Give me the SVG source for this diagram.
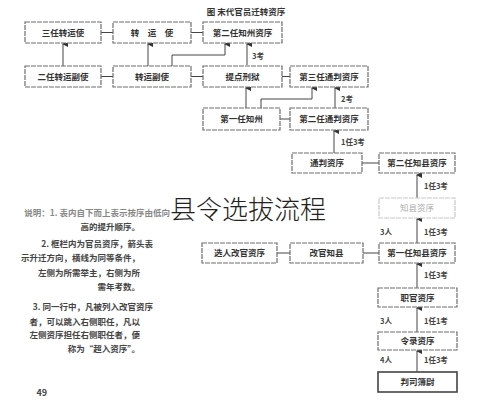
<svg xmlns="http://www.w3.org/2000/svg" width="492" height="400" viewBox="0 0 492 400">
<defs>
<marker id="ah" viewBox="0 0 6 6" refX="3" refY="1" markerWidth="6" markerHeight="6" orient="auto-start-reverse" markerUnits="userSpaceOnUse">
<path d="M0,6 L3,0 L6,6 Z" fill="#333"/>
</marker>
<style>
.b{fill:#fff;stroke:#6e6e6e;stroke-width:1.2;stroke-dasharray:5 1}
.t{font-family:"Noto Sans CJK SC","Noto Sans CJK TC",sans-serif;font-size:8.5px;font-weight:700;fill:#333;text-anchor:middle}
.f .b{stroke:#c8c8c8}
.f .t{fill:#aaa;font-weight:400}
.s .b{stroke:#444;stroke-width:1.6;stroke-dasharray:none}
.c{fill:none;stroke:#444;stroke-width:1}
.l{font-family:"Noto Sans CJK SC",sans-serif;font-size:7.5px;font-weight:700;fill:#444}
.n{font-family:"Noto Sans CJK SC",sans-serif;font-size:8.5px;font-weight:700;fill:#444;text-anchor:end}
</style>
</defs>
<rect width="492" height="400" fill="#fff"/>
<text x="246" y="15" class="t" style="font-size:8.5px">图 宋代官员迁转资序</text>

<g id="connectors">
<line class="c" x1="101" y1="32.5" x2="113" y2="32.5"/>
<line class="c" x1="191" y1="32.5" x2="203" y2="32.5"/>
<line class="c" x1="101" y1="76.5" x2="113" y2="76.5"/>
<line class="c" x1="191" y1="76.5" x2="203" y2="76.5"/>
<line class="c" x1="282" y1="76.5" x2="290" y2="76.5"/>
<line class="c" x1="280" y1="119" x2="290" y2="119"/>
<line class="c" x1="362" y1="163" x2="379" y2="163"/>
<line class="c" x1="277" y1="253" x2="290" y2="253"/>
<line class="c" x1="363" y1="253" x2="379" y2="253"/>
<line class="c" x1="63" y1="66" x2="63" y2="44" marker-end="url(#ah)"/>
<line class="c" x1="148" y1="66" x2="148" y2="44" marker-end="url(#ah)"/>
<line class="c" x1="247" y1="65" x2="247" y2="44" marker-end="url(#ah)"/>
<polyline class="c" points="172,66 172,55 225,55 225,44" marker-end="url(#ah)"/>
<line class="c" x1="246" y1="108" x2="246" y2="88" marker-end="url(#ah)"/>
<polyline class="c" points="261,108 261,99 312,99 312,88" marker-end="url(#ah)"/>
<line class="c" x1="335" y1="108" x2="335" y2="88" marker-end="url(#ah)"/>
<line class="c" x1="334" y1="153" x2="334" y2="131" marker-end="url(#ah)"/>
<line class="c" x1="417" y1="198" x2="417" y2="175" marker-end="url(#ah)"/>
<line class="c" x1="417" y1="243" x2="417" y2="219" marker-end="url(#ah)"/>
<line class="c" x1="417" y1="288" x2="417" y2="264" marker-end="url(#ah)"/>
<line class="c" x1="417" y1="332" x2="417" y2="308" marker-end="url(#ah)"/>
<line class="c" x1="417" y1="372" x2="417" y2="351" marker-end="url(#ah)"/>
<text class="l" x="252" y="59">3考</text>
<text class="l" x="341" y="102">2考</text>
<text class="l" x="341" y="145">1任3考</text>
<text class="l" x="424" y="189">1任3考</text>
<text class="l" x="424" y="235">1任3考</text>
<text class="l" x="380" y="235">3人</text>
<text class="l" x="424" y="278">1任3考</text>
<text class="l" x="424" y="324">1任1考</text>
<text class="l" x="380" y="324">3人</text>
<text class="l" x="424" y="363">1任3考</text>
<text class="l" x="380" y="363">4人</text>
</g>

<g id="A"><rect class="b" x="25" y="22" width="76" height="21"/><text class="t" x="63" y="35.5">三任转运使</text></g>
<g id="B"><rect class="b" x="113" y="22" width="78" height="21"/><text class="t" x="152" y="35.5">转　运　使</text></g>
<g id="C"><rect class="b" x="203" y="22" width="79" height="21"/><text class="t" x="242.5" y="35.5">第二任知州资序</text></g>
<g id="D"><rect class="b" x="25" y="66" width="76" height="21"/><text class="t" x="63" y="79.5">二任转运副使</text></g>
<g id="E"><rect class="b" x="113" y="66" width="78" height="21"/><text class="t" x="152" y="79.5">转运副使</text></g>
<g id="F"><rect class="b" x="203" y="66" width="79" height="21"/><text class="t" x="242.5" y="79.5">提点刑狱</text></g>
<g id="G"><rect class="b" x="290" y="66" width="78" height="21"/><text class="t" x="329" y="79.5">第三任通判资序</text></g>
<g id="I"><rect class="b" x="203" y="108" width="77" height="22"/><text class="t" x="241.5" y="122">第一任知州</text></g>
<g id="H"><rect class="b" x="290" y="108" width="78" height="22"/><text class="t" x="329" y="122">第二任通判资序</text></g>
<g id="K"><rect class="b" x="292" y="153" width="70" height="20"/><text class="t" x="327" y="166">通判资序</text></g>
<g id="L"><rect class="b" x="379" y="153" width="76" height="20"/><text class="t" x="417" y="166">第二任知县资序</text></g>
<g id="M" class="f"><rect class="b" x="379" y="198" width="76" height="20"/><text class="t" x="417" y="211">知县资序</text></g>
<g id="P"><rect class="b" x="202" y="243" width="75" height="20"/><text class="t" x="239.5" y="256">选人改官资序</text></g>
<g id="O"><rect class="b" x="290" y="243" width="73" height="20"/><text class="t" x="326.5" y="256">改官知县</text></g>
<g id="N"><rect class="b" x="379" y="243" width="76" height="20"/><text class="t" x="417" y="256">第一任知县资序</text></g>
<g id="Q"><rect class="b" x="378" y="288" width="79" height="19"/><text class="t" x="417.5" y="300.5">职官资序</text></g>
<g id="R"><rect class="b" x="378" y="332" width="79" height="18"/><text class="t" x="417.5" y="344">令录资序</text></g>
<g id="S" class="s"><rect class="b" x="378" y="372" width="79" height="20"/><text class="t" x="417.5" y="385">判司簿尉</text></g>

<g id="notes">
<text class="n" x="170" y="216" style="fill:#888">说明：1. 表内自下而上表示按序由低向</text>
<text class="n" x="140" y="230">高的提升顺序。</text>
<text class="n" x="153" y="247">2. 框栏内为官员资序，箭头表</text>
<text class="n" x="140" y="261">示升迁方向，横线为同等条件，</text>
<text class="n" x="140" y="276">左侧为所需举主，右侧为所</text>
<text class="n" x="140" y="290">需年考数。</text>
<text class="n" x="153" y="310">3. 同一行中，凡被列入改官资序</text>
<text class="n" x="140" y="325">者，可以跳入右侧职任，凡以</text>
<text class="n" x="140" y="338">左侧资序担任右侧职任者，便</text>
<text class="n" x="140" y="352">称为“超入资序”。</text>
<text class="n" x="47" y="396" style="font-size:9px">49</text>
</g>

<text x="170" y="219" style="font-family:'Noto Sans CJK SC',sans-serif;font-size:26px;font-weight:300;fill:#222">县令选拔流程</text>
</svg>
